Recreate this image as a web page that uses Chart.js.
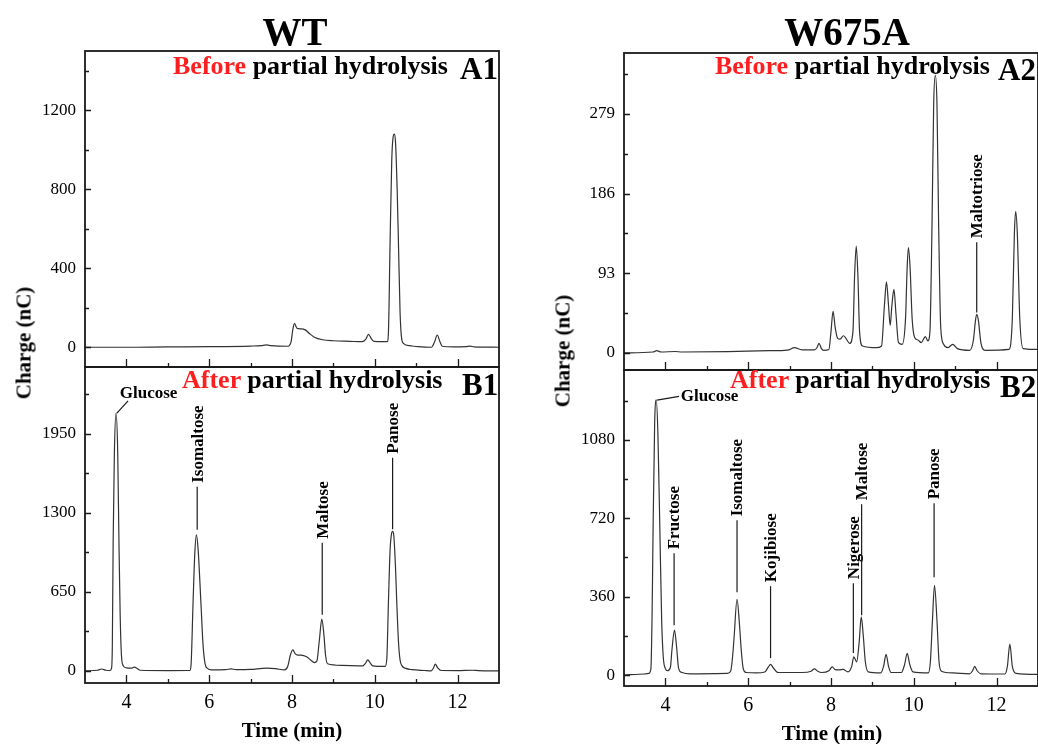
<!DOCTYPE html>
<html>
<head>
<meta charset="utf-8">
<title>HPAEC-PAD chromatograms: WT vs W675A</title>
<script src="https://cdn.jsdelivr.net/npm/chart.js@4.4.1/dist/chart.umd.min.js"></script>
<style>
  body { margin: 0; background: #fff; }
  #wrap { position: relative; width: 1038px; height: 744px; overflow: hidden;
          font-family: "Liberation Serif", "Times New Roman", serif; font-weight: bold; color: #000; }
  canvas { position: absolute; }
  .t { position: absolute; white-space: nowrap; line-height: 1; }
  .red { color: #fe2020; }
</style>
</head>
<body>
<div id="wrap">
  <canvas id="a1" width="520" height="380" style="left:0;top:0"></canvas>
  <canvas id="b1" width="520" height="384" style="left:0;top:360px"></canvas>
  <canvas id="a2" width="518" height="380" style="left:520px;top:0"></canvas>
  <canvas id="b2" width="518" height="382" style="left:520px;top:362px"></canvas>

  <div class="t" style="left:295px;top:12px;font-size:39px;transform:translateX(-50%)">WT</div>
  <div class="t" style="left:847px;top:12px;font-size:39px;transform:translateX(-50%)">W675A</div>

  <div class="t" style="left:173px;top:53px;font-size:26px"><span class="red">Before</span> partial hydrolysis</div>
  <div class="t" style="left:460px;top:53px;font-size:31px">A1</div>
  <div class="t" style="left:182px;top:367px;font-size:26px"><span class="red">After</span> partial hydrolysis</div>
  <div class="t" style="left:462px;top:369px;font-size:31px">B1</div>

  <div class="t" style="left:715px;top:53px;font-size:26px"><span class="red">Before</span> partial hydrolysis</div>
  <div class="t" style="left:998px;top:54px;font-size:31px">A2</div>
  <div class="t" style="left:730px;top:367px;font-size:26px"><span class="red">After</span> partial hydrolysis</div>
  <div class="t" style="left:1000px;top:371px;font-size:31px">B2</div>

  <div class="t" style="left:24px;top:343px;font-size:21px;transform:translate(-50%,-50%) rotate(-90deg)">Charge (nC)</div>
  <div class="t" style="left:563px;top:351px;font-size:21px;transform:translate(-50%,-50%) rotate(-90deg)">Charge (nC)</div>
  <div class="t" style="left:292px;top:720px;font-size:21px;transform:translateX(-50%)">Time (min)</div>
  <div class="t" style="left:832px;top:723px;font-size:21px;transform:translateX(-50%)">Time (min)</div>
</div>

<script>
// ---- data: [time (min), charge (nC)] ----
const wtBefore = [[3.0,0],[4.0,0],[5.0,2],[6.0,3],[7.0,6],[7.25,8],[7.38,12],[7.5,8],[7.9,5],[7.98,30],[8.02,90],[8.06,121],
  [8.12,96],[8.22,93],[8.32,88],[8.42,70],[8.54,51],[8.74,38],[9.0,33],[9.4,30],[9.7,28],[9.78,40],[9.85,65],[9.91,45],
  [9.98,30],[10.2,28],[10.30,28],[10.33,80],[10.37,540],[10.41,950],[10.44,1060],[10.47,1079],[10.50,1040],[10.54,800],
  [10.57,540],[10.61,180],[10.64,60],[10.69,20],[10.85,8],[11.05,3],[11.37,0],[11.44,25],[11.51,62],[11.57,30],[11.63,5],
  [11.9,2],[12.2,3],[12.3,6],[12.4,2],[13.0,0]];

const wtAfter = [[3.0,0],[3.3,5],[3.4,15],[3.5,5],[3.6,3],[3.64,20],[3.66,200],[3.68,1060],[3.71,1800],[3.75,2121],[3.79,1800],
  [3.82,1060],[3.85,450],[3.88,130],[3.92,45],[4.0,25],[4.12,22],[4.19,30],[4.26,20],[4.33,5],[5.0,2],[5.53,3],[5.56,40],
  [5.61,560],[5.65,950],[5.69,1119],[5.73,1010],[5.80,560],[5.85,220],[5.90,60],[5.96,20],[6.05,8],[6.4,10],[6.53,16],
  [6.65,10],[7.0,12],[7.38,22],[7.6,18],[7.82,8],[7.9,40],[7.96,130],[8.02,173],[8.08,140],[8.14,130],[8.22,129],[8.34,118],
  [8.45,90],[8.54,68],[8.6,80],[8.66,250],[8.72,425],[8.77,300],[8.81,130],[8.86,58],[9.2,45],[9.71,41],[9.77,60],[9.83,90],
  [9.89,65],[9.95,41],[10.25,36],[10.29,100],[10.33,573],[10.37,1000],[10.40,1120],[10.43,1147],[10.46,1110],[10.50,850],
  [10.53,573],[10.57,250],[10.61,90],[10.65,45],[10.75,20],[10.9,10],[11.2,3],[11.36,0],[11.42,25],[11.46,55],[11.52,25],
  [11.6,3],[12.0,2],[12.36,5],[12.5,2],[13.0,0]];

const mutBefore = [[3.0,0],[3.7,1],[3.79,2.5],[3.9,1],[4.23,1.6],[4.4,1],[5.5,1.5],[6.5,2.5],[6.95,3.2],[7.12,6],[7.3,3.5],
  [7.6,3.5],[7.66,6],[7.71,11],[7.77,5],[7.82,3],[7.95,4],[8.0,25],[8.05,48.6],[8.1,30],[8.16,17],[8.22,16],[8.3,20],[8.36,17],
  [8.45,11],[8.53,25],[8.57,90],[8.61,124.7],[8.65,90],[8.69,25],[8.76,8],[9.1,6],[9.22,8],[9.29,55],[9.34,82.8],[9.39,55],
  [9.43,32],[9.47,55],[9.52,74],[9.57,45],[9.63,12],[9.72,10],[9.8,40],[9.84,100],[9.87,123],[9.91,100],[9.96,40],[10.02,18],
  [10.1,15],[10.18,12],[10.28,19],[10.34,14],[10.39,25],[10.44,150],[10.48,290],[10.52,324],[10.56,290],[10.6,150],[10.65,30],
  [10.72,10],[10.82,6],[10.94,10],[11.05,5],[11.35,3],[11.44,15],[11.49,38],[11.52,45],[11.56,38],[11.62,12],[11.72,3],
  [12.3,4],[12.38,40],[12.43,140],[12.46,165],[12.5,140],[12.56,40],[12.64,5],[13.0,4]];

const mutAfter = [[3.0,0],[3.5,5],[3.6,8],[3.65,30],[3.68,300],[3.70,630],[3.74,1150],[3.78,1263],[3.82,1100],[3.87,630],
  [3.91,250],[3.95,80],[4.0,30],[4.05,20],[4.12,35],[4.16,120],[4.22,206],[4.27,130],[4.32,30],[4.4,12],[4.6,6],[5.5,8],
  [5.58,20],[5.63,100],[5.66,175],[5.73,348],[5.79,230],[5.83,120],[5.88,30],[5.95,12],[6.2,10],[6.4,14],[6.48,35],[6.54,49],
  [6.6,35],[6.72,12],[7.3,12],[7.52,18],[7.6,29],[7.68,18],[7.77,12],[7.95,20],[8.03,38],[8.1,25],[8.2,24],[8.29,26],[8.41,15],
  [8.5,40],[8.55,84],[8.62,61],[8.68,150],[8.73,267],[8.78,180],[8.83,60],[8.9,15],[9.2,10],[9.27,40],[9.33,95],[9.39,40],
  [9.45,12],[9.7,12],[9.78,50],[9.84,100],[9.9,50],[9.98,15],[10.35,10],[10.4,60],[10.45,250],[10.5,412],[10.56,250],
  [10.61,60],[10.67,18],[10.95,10],[11.35,6],[11.42,20],[11.47,40],[11.53,20],[11.62,6],[12.2,5],[12.26,40],[12.32,142],
  [12.38,40],[12.47,8],[13,3]];

// ---- tick labels ----
const timeTicks = [4, 6, 8, 10, 12];
const wtBeforeTicks = [0, 400, 800, 1200];
const wtAfterTicks = [0, 650, 1300, 1950];
const mutBeforeTicks = [0, 93, 186, 279];
const mutAfterTicks = [0, 360, 720, 1080];

// ---- peak names and retention times ----
const wtAfterPeaks = ['Isomaltose', 'Maltose', 'Panose'];
const wtAfterPeakTimes = [5.71, 8.73, 10.43];
const mutBeforePeaks = ['Maltotriose'];
const mutBeforePeakTimes = [11.52];
const mutAfterPeaks = ['Fructose', 'Isomaltose', 'Kojibiose', 'Nigerose', 'Maltose', 'Panose'];
const mutAfterPeakTimes = [4.21, 5.73, 6.54, 8.54, 8.74, 10.49];

// leader line extents (charge units) - layout only
const wtAfterLeaders = { top: [1514, 1053, 1753], end: [1160, 461, 1165] };
const mutBeforeLeaders = { top: [129], end: [47] };
const mutAfterLeaders = { top: [559, 710, 408, 422, 784, 788], end: [229, 380, 78, 101, 275, 449] };
// glucose label: leader from apex to a point, text next to it
const wtGlucose = { from: [3.77, 2121], to: [4.04, 2222], text: [3.84, 2247] };
const mutGlucose = { from: [3.80, 1262], to: [4.33, 1279], text: [4.37, 1260] };

const INK = '#1a1a1a';
const LABEL_FONT = 'bold 17px "Liberation Serif", "Times New Roman", serif';

// force scale sizes so the plot boxes land where they should
function fixSize(size) {
    return function (scale) {
        if (scale.isHorizontal()) scale.height = size; else scale.width = size;
        scale.paddingTop = scale.paddingBottom = scale.paddingLeft = scale.paddingRight = 0;
    };
}

function setTicks(values) {
    return function (scale) {
        scale.ticks = values.map(v => ({ value: v }));
    };
}

// minor ticks halfway between majors
function minorValues(majors, min, max) {
    const step = majors[1] - majors[0];
    const out = [];
    for (let v = majors[0] - step / 2; v < max; v += step) {
        if (v > min) out.push(v);
    }
    return out;
}

// frame, inward ticks and peak labels
function framePlugin(p) {
    return {
        id: 'frame',
        afterDatasetsDraw(chart) {
            const ctx = chart.ctx;
            const a = chart.chartArea;
            const xs = chart.scales.x;
            const ys = chart.scales.y;
            ctx.save();
            ctx.strokeStyle = INK;
            ctx.lineWidth = 1.3;

            // x ticks (pointing up)
            ctx.beginPath();
            timeTicks.forEach(v => {
                const px = Math.round(xs.getPixelForValue(v)) + 0.5;
                ctx.moveTo(px, a.bottom); ctx.lineTo(px, a.bottom - 8);
            });
            minorValues(timeTicks, xs.min, xs.max).forEach(v => {
                const px = Math.round(xs.getPixelForValue(v)) + 0.5;
                ctx.moveTo(px, a.bottom); ctx.lineTo(px, a.bottom - 4);
            });
            // y ticks (pointing right)
            p.yTicks.forEach(v => {
                const py = Math.round(ys.getPixelForValue(v)) + 0.5;
                ctx.moveTo(a.left, py); ctx.lineTo(a.left + 6, py);
            });
            minorValues(p.yTicks, ys.min, ys.max).forEach(v => {
                const py = Math.round(ys.getPixelForValue(v)) + 0.5;
                ctx.moveTo(a.left, py); ctx.lineTo(a.left + 4, py);
            });
            ctx.stroke();

            ctx.lineWidth = 1.8;
            ctx.strokeRect(a.left, a.top, a.right - a.left, a.bottom - a.top);

            // vertical peak labels
            ctx.fillStyle = '#000';
            ctx.font = LABEL_FONT;
            ctx.lineWidth = 1.2;
            (p.names || []).forEach((name, i) => {
                const px = xs.getPixelForValue(p.times[i]);
                const top = ys.getPixelForValue(p.leaders.top[i]);
                const end = ys.getPixelForValue(p.leaders.end[i]);
                ctx.beginPath();
                ctx.moveTo(px, top); ctx.lineTo(px, end);
                ctx.stroke();
                ctx.save();
                ctx.translate(px, top - 4);
                ctx.rotate(-Math.PI / 2);
                ctx.textAlign = 'left';
                ctx.textBaseline = 'middle';
                ctx.fillText(name, 0, 1);
                ctx.restore();
            });

            // horizontal Glucose label
            if (p.glucose) {
                const g = p.glucose;
                ctx.beginPath();
                ctx.moveTo(xs.getPixelForValue(g.from[0]), ys.getPixelForValue(g.from[1]));
                ctx.lineTo(xs.getPixelForValue(g.to[0]), ys.getPixelForValue(g.to[1]));
                ctx.stroke();
                ctx.textAlign = 'left';
                ctx.textBaseline = 'alphabetic';
                ctx.fillText('Glucose', xs.getPixelForValue(g.text[0]), ys.getPixelForValue(g.text[1]));
            }
            ctx.restore();
        }
    };
}

function makePanel(id, p) {
    const serif = '"Liberation Serif", "Times New Roman", serif';
    return new Chart(document.getElementById(id), {
        type: 'line',
        data: {
            datasets: [{
                data: p.series.map(d => ({ x: d[0], y: d[1] })),
                borderColor: '#333',
                borderWidth: 1.2,
                pointRadius: 0,
                fill: false,
                cubicInterpolationMode: 'monotone'
            }]
        },
        options: {
            responsive: false,
            animation: false,
            events: [],
            layout: { padding: p.padding },
            plugins: { legend: { display: false }, tooltip: { enabled: false } },
            scales: {
                x: {
                    type: 'linear',
                    min: 3,
                    max: 13,
                    afterBuildTicks: setTicks(timeTicks),
                    afterFit: fixSize(p.xHeight),
                    grid: { display: false, drawTicks: false },
                    border: { display: false },
                    ticks: {
                        display: p.showX,
                        color: '#000',
                        padding: 8,
                        maxRotation: 0,
                        autoSkip: false,
                        font: { family: serif, size: 20 },
                        callback: v => String(v)
                    }
                },
                y: {
                    type: 'linear',
                    min: p.yMin,
                    max: p.yMax,
                    afterBuildTicks: setTicks(p.yTicks),
                    afterFit: fixSize(p.yWidth),
                    grid: { display: false, drawTicks: false },
                    border: { display: false },
                    ticks: {
                        color: '#000',
                        padding: 9,
                        autoSkip: false,
                        font: { family: serif, size: 17 },
                        callback: v => String(v)
                    }
                }
            }
        },
        plugins: [framePlugin(p)]
    });
}

makePanel('a1', {
    series: wtBefore, yMin: -100, yMax: 1500, yTicks: wtBeforeTicks,
    padding: { top: 51, right: 21, bottom: 13, left: 0 }, yWidth: 85, xHeight: 0, showX: false
});
makePanel('b1', {
    series: wtAfter, yMin: -100, yMax: 2500, yTicks: wtAfterTicks,
    padding: { top: 7, right: 21, bottom: 21, left: 0 }, yWidth: 85, xHeight: 40, showX: true,
    names: wtAfterPeaks, times: wtAfterPeakTimes, leaders: wtAfterLeaders, glucose: wtGlucose
});
makePanel('a2', {
    series: mutBefore, yMin: -20, yMax: 350, yTicks: mutBeforeTicks,
    padding: { top: 53, right: 0, bottom: 10, left: 0 }, yWidth: 104, xHeight: 0, showX: false,
    names: mutBeforePeaks, times: mutBeforePeakTimes, leaders: mutBeforeLeaders
});
makePanel('b2', {
    series: mutAfter, yMin: -50, yMax: 1400, yTicks: mutAfterTicks,
    padding: { top: 8, right: 0, bottom: 18, left: 0 }, yWidth: 104, xHeight: 40, showX: true,
    names: mutAfterPeaks, times: mutAfterPeakTimes, leaders: mutAfterLeaders, glucose: mutGlucose
});
</script>
</body>
</html>
